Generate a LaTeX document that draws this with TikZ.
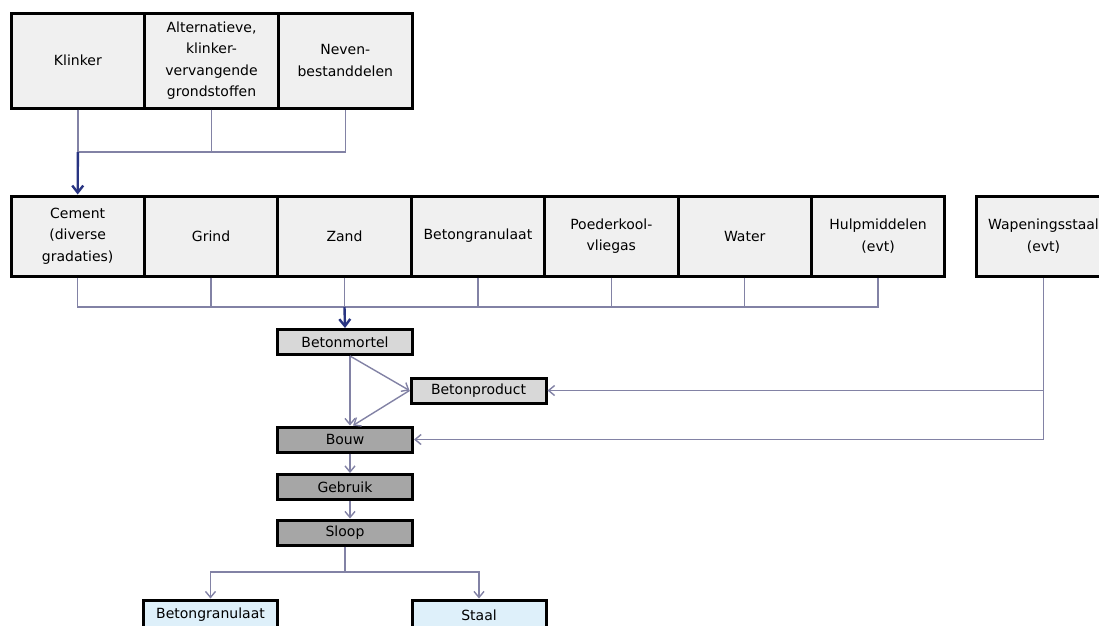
\documentclass[tikz,border=0pt]{standalone}
\usepackage{fontspec}
\setmainfont{DejaVu Sans}
\usetikzlibrary{arrows.meta}
\definecolor{lijngrijs}{RGB}{130,130,165}
\definecolor{donkerblauw}{RGB}{40,52,130}
\definecolor{lichtgrijs}{RGB}{240,240,240}
\definecolor{middengrijs}{RGB}{216,216,216}
\definecolor{donkergrijs}{RGB}{166,166,166}
\definecolor{lichtblauw}{RGB}{222,240,250}
\tikzset{
  box/.style={draw, line width=3pt, align=center, inner sep=1pt, font=\fontsize{14}{21.5}\selectfont},
  grondstof/.style={box, fill=lichtgrijs, minimum width=133.7pt, minimum height=95pt},
  bestanddeel/.style={box, fill=lichtgrijs, minimum width=133.4pt, minimum height=80pt},
  stap/.style={box, fill=middengrijs, minimum width=135pt, minimum height=25pt},
  fase/.style={box, fill=donkergrijs, minimum width=135pt, minimum height=25pt},
  rest/.style={box, fill=lichtblauw, minimum width=134pt, minimum height=30pt},
  lijn/.style={draw=lijngrijs, line width=1.4pt},
  pijl/.style={lijn, -{Straight Barb[length=6pt,width=10pt]}},
  hoofdpijl/.style={draw=donkerblauw, line width=2.4pt, -{Straight Barb[length=7pt,width=11pt]}}
}
\begin{document}
\begin{tikzpicture}[x=1pt,y=-1pt]
\useasboundingbox (0,0) rectangle (1099,625);
% grondstoffen cement
\node[grondstof] (klinker) at (77.85,60.5){Klinker};
\node[grondstof] (alternatief) at (211.55,60.5){Alternatieve,\\klinker-\\vervangende\\grondstoffen};
\node[grondstof] (neven) at (345.25,60.5){Neven-\\bestanddelen};
\coordinate (mix1) at (78,152);
\draw[lijn] (klinker.south) -- (klinker.south |- mix1) -- (neven.south |- mix1) -- (neven.south);
\draw[lijn] (alternatief.south) -- (alternatief.south |- mix1);
% bestanddelen betonmortel
\node[bestanddeel] (cement) at (77.7,236){Cement\\(diverse\\gradaties)};
\node[bestanddeel] (grind) at (211.1,236){Grind};
\node[bestanddeel] (zand) at (344.5,236){Zand};
\node[bestanddeel] (granulaat) at (477.9,236){Betongranulaat};
\node[bestanddeel] (poederkool) at (611.3,236){Poederkool-\\vliegas};
\node[bestanddeel] (water) at (744.7,236){Water};
\node[bestanddeel] (hulp) at (878.1,236){Hulpmiddelen\\(evt)};
\node[bestanddeel] (wapening) at (1043.5,236){Wapeningsstaal\\(evt)};
\draw[hoofdpijl] (klinker.south |- mix1) -- (cement.north);
\coordinate (mix2) at (345,307);
\draw[lijn] (cement.south) -- (cement.south |- mix2) -- (hulp.south |- mix2) -- (hulp.south);
\draw[lijn] (grind.south) -- (grind.south |- mix2);
\draw[lijn] (zand.south) -- (zand.south |- mix2);
\draw[lijn] (granulaat.south) -- (granulaat.south |- mix2);
\draw[lijn] (poederkool.south) -- (poederkool.south |- mix2);
\draw[lijn] (water.south) -- (water.south |- mix2);
% keten
\node[stap] (mortel) at (345,342){Betonmortel};
\node[stap] (product) at (478.5,390.5){Betonproduct};
\node[fase] (bouw) at (345,439.5){Bouw};
\node[fase] (gebruik) at (345,487){Gebruik};
\node[fase] (sloop) at (345,532.5){Sloop};
\draw[hoofdpijl] (zand.south |- mix2) -- (mortel.north);
\draw[pijl] ([xshift=5pt]mortel.south) -- ([xshift=5pt]bouw.north);
\draw[pijl] ([xshift=5pt]mortel.south) -- (product.west);
\draw[pijl] (product.west) -- ([xshift=8pt]bouw.north);
\draw[pijl] (wapening.south) |- (bouw.east);
\draw[pijl] (wapening.south |- product.east) -- (product.east);
\draw[pijl] ([xshift=5pt]bouw.south) -- ([xshift=5pt]gebruik.north);
\draw[pijl] ([xshift=5pt]gebruik.south) -- ([xshift=5pt]sloop.north);
% na sloop
\node[rest] (restgranulaat) at (210.5,615){Betongranulaat};
\node[rest] (staal) at (479,615){Staal};
\coordinate (split) at (344,572);
\draw[lijn] (sloop.south) -- (sloop.south |- split);
\draw[pijl] (sloop.south |- split) -| (restgranulaat.north);
\draw[pijl] (sloop.south |- split) -| (staal.north);
\end{tikzpicture}
\end{document}
